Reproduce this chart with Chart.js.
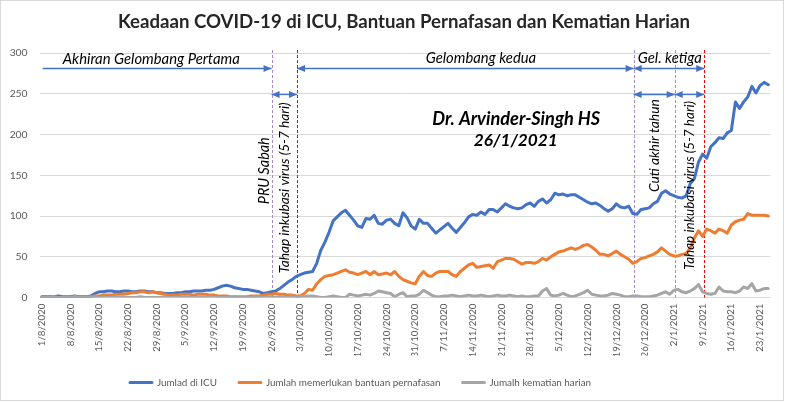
<!DOCTYPE html>
<html>
<head>
<meta charset="utf-8">
<script src="https://cdn.jsdelivr.net/npm/chart.js@4.4.1/dist/chart.umd.min.js"></script>
<style>
html,body{margin:0;padding:0;background:#fff;}
#wrap{width:786px;height:402px;}
canvas{display:block;}
</style>
</head>
<body>
<div id="wrap"><canvas id="c" width="786" height="402"></canvas></div>
<script>
// ---------- DATA ----------
const startDate = '1/8/2020'; // first category, one point per day

const icuCount = [
  1,1,1,1,2,1,1,1,2,1,1,1,
  2,5,7,7,8,8,7,7,8,8,7,7,8,8,7,7,
  6,6,5,5,5,6,6,7,7,8,8,8,9,9,10,12,
  14,15,14,12,11,10,10,9,8,7,5,6,7,8,11,15,
  19,22,26,28,30,31,32,42,58,68,80,94,99,104,107,101,
  95,88,86,97,96,101,91,90,95,96,91,88,104,98,88,84,
  96,91,91,85,79,83,87,91,85,80,86,92,99,102,101,105,
  102,108,108,105,110,115,112,110,109,110,114,116,112,118,121,116,
  120,128,126,127,125,126,126,123,120,117,115,116,113,109,106,109,
  115,111,110,112,103,102,108,109,110,115,118,128,131,127,125,123,
  122,125,140,146,166,176,171,185,190,196,195,202,205,240,232,240,
  246,259,251,260,264,261
];

const respiratoryCount = [
  0,0,0,0,0,0,0,0,1,1,1,1,1,2,2,3,
  3,3,4,4,4,5,6,6,7,7,6,7,6,5,4,3,
  3,3,4,4,4,3,4,4,4,3,3,2,2,2,1,1,
  1,1,1,2,2,2,3,4,4,5,4,4,3,3,2,2,
  5,10,9,17,22,26,27,28,30,32,34,31,30,28,30,32,
  28,32,28,29,30,28,32,26,22,20,18,17,26,32,27,26,
  30,32,32,32,28,26,32,36,40,42,37,38,39,40,36,44,
  46,48,48,47,44,41,43,43,42,44,48,46,50,53,56,57,
  59,61,59,61,64,65,62,58,53,53,51,54,57,53,50,47,
  42,44,48,49,51,53,56,61,57,53,51,51,53,54,61,73,
  82,75,84,82,79,84,82,79,89,93,95,96,103,101,101,101,
  101,100
];

const dailyDeaths = [
  0,0,0,1,0,0,0,0,1,0,0,0,0,1,0,0,
  0,0,1,0,0,0,0,0,1,0,0,0,0,0,1,0,
  0,0,0,1,0,0,0,0,0,1,0,0,0,0,0,1,
  0,0,0,0,1,0,0,1,0,0,1,0,0,1,0,1,
  1,2,2,1,0,0,1,2,1,0,0,4,3,2,3,4,
  3,5,8,7,6,5,1,4,6,1,2,2,4,9,6,3,
  1,1,2,2,3,2,1,2,3,2,2,3,2,1,2,3,
  2,2,3,2,1,2,1,1,2,2,8,11,3,2,3,5,
  3,1,2,4,6,9,4,3,2,2,3,5,4,3,1,1,
  2,2,1,1,1,2,3,5,7,4,9,10,7,6,8,11,
  16,7,5,4,5,13,8,7,7,6,8,13,11,17,8,9,
  11,11
];

const tickLabels = [
  '1/8/2020','8/8/2020','15/8/2020','22/8/2020','29/8/2020','5/9/2020','12/9/2020',
  '19/9/2020','26/9/2020','3/10/2020','10/10/2020','17/10/2020','24/10/2020',
  '31/10/2020','7/11/2020','14/11/2020','21/11/2020','28/11/2020','5/12/2020',
  '12/12/2020','19/12/2020','26/12/2020','2/1/2021','9/1/2021','16/1/2021','23/1/2021'
];

const seriesNames = ['Jumlad di ICU', 'Jumlah memerlukan bantuan pernafasan', 'Jumalh kematian harian'];
const titleText = 'Keadaan COVID-19 di ICU, Bantuan Pernafasan dan Kematian Harian';

// categories: consecutive days starting at startDate
const categories = (() => {
  const [d0, m0, y0] = startDate.split('/').map(Number);
  const out = [];
  for (let i = 0; i < icuCount.length; i++) {
    const d = new Date(Date.UTC(y0, m0 - 1, d0 + i));
    out.push(d.getUTCDate() + '/' + (d.getUTCMonth() + 1) + '/' + d.getUTCFullYear());
  }
  return out;
})();

// ---------- ANNOTATIONS (in data units: day index, value) ----------
const eventLines = [
  { at: 56,    color: '#A48BD2' },
  { at: 62.2,  color: '#FF0000' },
  { at: 144.2, color: '#A48BD2' },
  { at: 154.2, color: '#A48BD2' },
  { at: 161.4, color: '#FF0000' }
];
const arrows = [
  { from: 0.25,  to: 56,    v: 282, heads: 'end' },
  { from: 56,    to: 62.2,  v: 250, heads: 'both' },
  { from: 62.2,  to: 144.2, v: 282, heads: 'both' },
  { from: 144.2, to: 161.4, v: 282, heads: 'both' },
  { from: 144.2, to: 154.2, v: 250, heads: 'both' },
  { from: 154.2, to: 161.4, v: 250, heads: 'both' }
];
const notes = [
  { text: 'Akhiran Gelombang Pertama', at: 26.7, v: 292.3, w: 177 },
  { text: 'Gelombang kedua', at: 107, v: 293.2, w: 110.6 },
  { text: 'Gel. ketiga', at: 153, v: 293.2, w: 64 },
  { text: 'Dr. Arvinder-Singh HS', at: 115.6, v: 219, w: 168, bold: true },
  { text: '26/1/2021', at: 115.5, v: 192.6, w: 84, bold: true },
  { text: 'PRU Sabah', at: 54.3, v: 155.6, w: 67, rot: true },
  { text: 'Tahap inkubasi virus (5-7 hari)', at: 59.1, v: 134.6, w: 171, rot: true },
  { text: 'Cuti akhir tahun', at: 149.3, v: 186.4, w: 93, rot: true },
  { text: 'Tahap inkubasi virus (5-7 hari)', at: 157.8, v: 137.7, w: 169, rot: true }
];

// ---------- STYLE ----------
const FAMILY = 'Lato';
const colors = ['#4472C4', '#ED7D31', '#A5A5A5'];
const measureCtx = document.createElement('canvas').getContext('2d');
function fitSize(text, tmpl, target) {
  measureCtx.font = tmpl.replace('{s}', '100px');
  return 100 * target / measureCtx.measureText(text).width;
}
const titleSize = fitSize(titleText, 'bold {s} ' + FAMILY, 572);
const legendSize = fitSize(seriesNames[1], '{s} ' + FAMILY, 175);
const tickSize = fitSize('300', '{s} ' + FAMILY, 18);
const xTickSize = fitSize('10/10/2020', '{s} ' + FAMILY, 54);

const PLOT_TOP = 53, PLOT_BOTTOM = 296, PLOT_LEFT = 39.6;
const TITLE_CY = 22;
const LEG_PAD = 22, LEG_CY = 381, LEG_X = 130;
const BOTTOM_PAD = 4.5;
const legendTop = LEG_CY - LEG_PAD - legendSize / 2;
const titlePadTop = TITLE_CY - 0.6 * titleSize;
const titlePadBottom = PLOT_TOP - titlePadTop - 1.2 * titleSize;

Chart.defaults.font.family = FAMILY;

const bgPlugin = {
  id: 'bg',
  beforeDraw(chart) {
    const c = chart.ctx;
    c.save();
    c.fillStyle = '#fff';
    c.fillRect(0, 0, chart.width, chart.height);
    c.strokeStyle = '#D9D9D9';
    c.lineWidth = 1;
    c.strokeRect(0.5, 0.5, 783, 400);
    c.restore();
  }
};

const shiftPlugin = {
  id: 'shift',
  afterLayout(chart) {
    if (chart.legend) {
      chart.legend.left = LEG_X - LEG_PAD;
    }
    if (chart.titleBlock) {
      const w = chart.titleBlock.right - chart.titleBlock.left;
      chart.titleBlock.left = 404 - w / 2;
      chart.titleBlock.right = 404 + w / 2;
    }
  }
};

function drawHead(c, x, y, dir) {
  const L = 8, H = 3.6;
  c.beginPath();
  c.moveTo(x, y);
  c.lineTo(x - dir * L, y - H);
  c.lineTo(x - dir * L, y + H);
  c.closePath();
  c.fill();
}

const annotPlugin = {
  id: 'annot',
  beforeDatasetsDraw(chart) {
    const c = chart.ctx, ca = chart.chartArea, xs = chart.scales.x;
    c.save();
    c.lineWidth = 1;
    c.setLineDash([3, 2]);
    eventLines.forEach(l => {
      const x = Math.round(xs.getPixelForValue(l.at)) + 0.5;
      c.strokeStyle = l.color;
      c.beginPath();
      c.moveTo(x, ca.top - 3);
      c.lineTo(x, ca.bottom);
      c.stroke();
    });
    c.restore();
  },
  afterDatasetsDraw(chart) {
    const c = chart.ctx, xs = chart.scales.x, ys = chart.scales.y;
    c.save();
    c.strokeStyle = '#4472C4';
    c.fillStyle = '#4472C4';
    c.lineWidth = 1.3;
    arrows.forEach(a => {
      const x1 = xs.getPixelForValue(a.from), x2 = xs.getPixelForValue(a.to);
      const y = Math.round(ys.getPixelForValue(a.v)) + 0.5;
      c.beginPath();
      c.moveTo(x1, y);
      c.lineTo(x2, y);
      c.stroke();
      drawHead(c, x2, y, 1);
      if (a.heads === 'both') drawHead(c, x1, y, -1);
    });
    c.fillStyle = '#000';
    c.textAlign = 'center';
    c.textBaseline = 'middle';
    notes.forEach(n => {
      const tmpl = 'italic ' + (n.bold ? 'bold ' : '') + '{s} ' + FAMILY;
      const size = fitSize(n.text, tmpl, n.w);
      c.font = tmpl.replace('{s}', size.toFixed(2) + 'px');
      const x = xs.getPixelForValue(n.at), y = ys.getPixelForValue(n.v);
      if (n.rot) {
        c.save();
        c.translate(x, y);
        c.rotate(-Math.PI / 2);
        c.fillText(n.text, 0, 0);
        c.restore();
      } else {
        c.fillText(n.text, x, y);
      }
    });
    c.restore();
  }
};

new Chart(document.getElementById('c'), {
  type: 'line',
  data: {
    labels: categories,
    datasets: [
      { label: seriesNames[0], data: icuCount, borderColor: colors[0], backgroundColor: colors[0], order: 3 },
      { label: seriesNames[1], data: respiratoryCount, borderColor: colors[1], backgroundColor: colors[1], order: 2 },
      { label: seriesNames[2], data: dailyDeaths, borderColor: colors[2], backgroundColor: colors[2], order: 1 }
    ]
  },
  options: {
    responsive: false,
    animation: false,
    devicePixelRatio: 1,
    layout: { padding: { left: 0, right: 14, top: 0, bottom: BOTTOM_PAD } },
    elements: {
      point: { radius: 0, hoverRadius: 0 },
      line: { borderWidth: 3, tension: 0, borderJoinStyle: 'round', borderCapStyle: 'round', fill: false }
    },
    scales: {
      x: {
        type: 'category',
        offset: true,
        grid: { display: false, drawTicks: false },
        border: { display: false },
        ticks: {
          autoSkip: false, minRotation: 90, maxRotation: 90, padding: 6,
          color: '#595959', font: { size: xTickSize },
          callback(v, i) { const l = categories[i]; return tickLabels.includes(l) ? l : ''; }
        },
        afterFit(s) { s.height = legendTop - PLOT_BOTTOM; }
      },
      y: {
        min: 0, max: 300,
        ticks: { stepSize: 50, padding: 12, color: '#595959', font: { size: tickSize } },
        grid: { color: '#D9D9D9', drawTicks: false, lineWidth: 1 },
        border: { display: false },
        afterFit(s) { s.width = PLOT_LEFT; }
      }
    },
    plugins: {
      title: {
        display: true,
        text: titleText,
        color: '#262626',
        font: { size: titleSize, weight: 'bold', family: FAMILY },
        padding: { top: titlePadTop, bottom: titlePadBottom }
      },
      legend: {
        display: true,
        position: 'bottom',
        align: 'start',
        maxHeight: 402 - legendTop,
        labels: {
          boxWidth: 22, boxHeight: 0, padding: LEG_PAD,
          color: '#595959', font: { size: legendSize },
          sort: (a, b) => a.datasetIndex - b.datasetIndex
        }
      },
      tooltip: { enabled: false }
    }
  },
  plugins: [bgPlugin, annotPlugin, shiftPlugin]
});
</script>
</body>
</html>
